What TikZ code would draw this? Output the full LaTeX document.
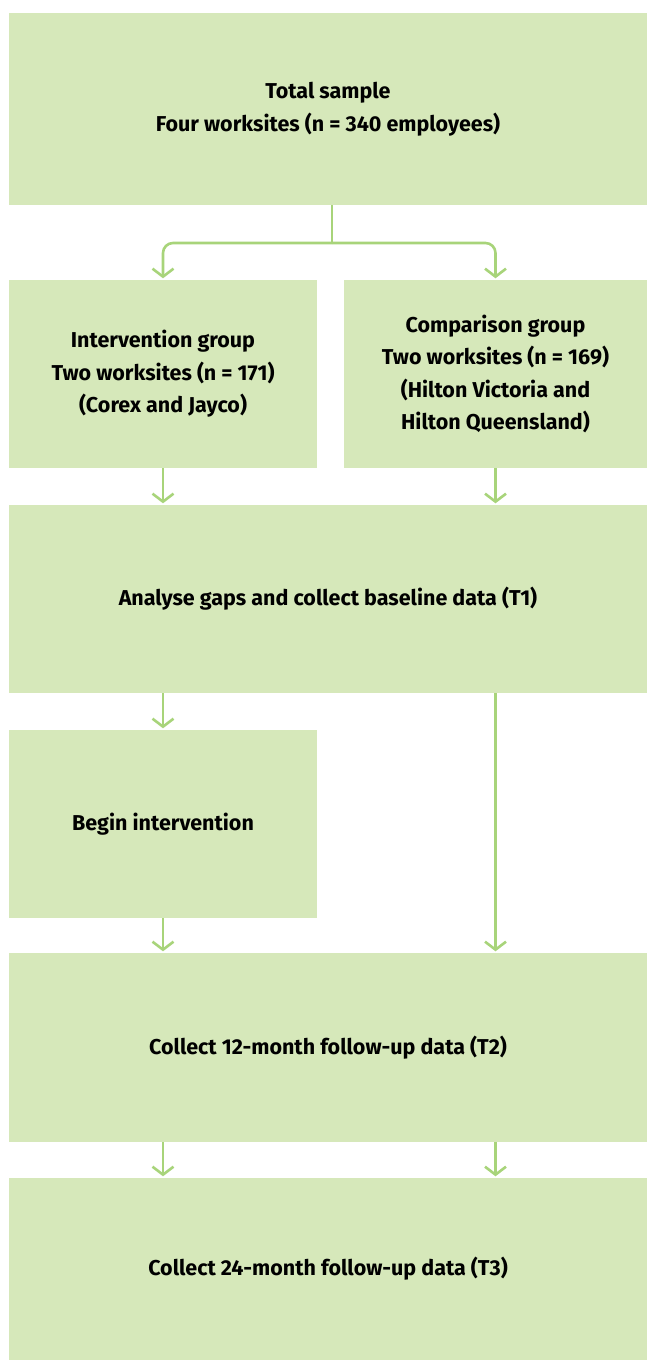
\documentclass[tikz,border=0pt]{standalone}
\usepackage{fontspec}
\setmainfont{Fira Sans}
\usetikzlibrary{arrows.meta}

\definecolor{boxgreen}{RGB}{214,232,186}
\definecolor{linegreen}{RGB}{168,212,122}

\tikzset{
  box/.style={fill=boxgreen, inner sep=0pt, align=center, font=\fontsize{21.5}{32.5}\selectfont\bfseries},
  flow/.style={draw=linegreen, line width=2.6pt, -{Straight Barb[length=8pt, width=21pt]}, shorten >=1.5pt},
  link/.style={draw=linegreen, line width=2.6pt},
}

\begin{document}
\begin{tikzpicture}[x=1pt, y=-1pt]

\useasboundingbox (0,0) rectangle (647,1360);

\node[box, minimum width=638pt, minimum height=192pt] (total) at (328, 109) {Total sample\\Four worksites (n = 340 employees)};
\node[box, minimum width=308pt, minimum height=188pt] (interv) at (163, 374) {Intervention group\\Two worksites (n = 171)\\(Corex and Jayco)};
\node[box, minimum width=303pt, minimum height=188pt] (comp) at (495.5, 374) {Comparison group\\Two worksites (n = 169)\\(Hilton Victoria and\\Hilton Queensland)};
\node[box, minimum width=638pt, minimum height=188pt] (base) at (328, 599) {Analyse gaps and collect baseline data (T1)};
\node[box, minimum width=308pt, minimum height=188pt] (begin) at (163, 824) {Begin intervention};
\node[box, minimum width=638pt, minimum height=189pt] (fu12) at (328, 1047.5) {Collect 12-month follow-up data (T2)};
\node[box, minimum width=638pt, minimum height=182pt] (fu24) at (328, 1269) {Collect 24-month follow-up data (T3)};

% split from the total sample
\coordinate (split) at (332, 243);
\draw[link] (split |- total.south) -- (split);
\draw[flow, rounded corners=10pt] (split) -| (interv.north);
\draw[flow, rounded corners=10pt] (split) -| (comp.north);

% groups to baseline
\draw[flow] (interv.south) -- (interv.south |- base.north);
\draw[flow] (comp.south) -- (comp.south |- base.north);

% baseline to intervention and follow-up
\draw[flow] (base.south -| begin) -- (begin.north);
\draw[flow] (base.south -| comp) -- (fu12.north -| comp);
\draw[flow] (begin.south) -- (fu12.north -| begin);

% 12 months to 24 months
\draw[flow] (fu12.south -| interv) -- (fu24.north -| interv);
\draw[flow] (fu12.south -| comp) -- (fu24.north -| comp);

\end{tikzpicture}
\end{document}
